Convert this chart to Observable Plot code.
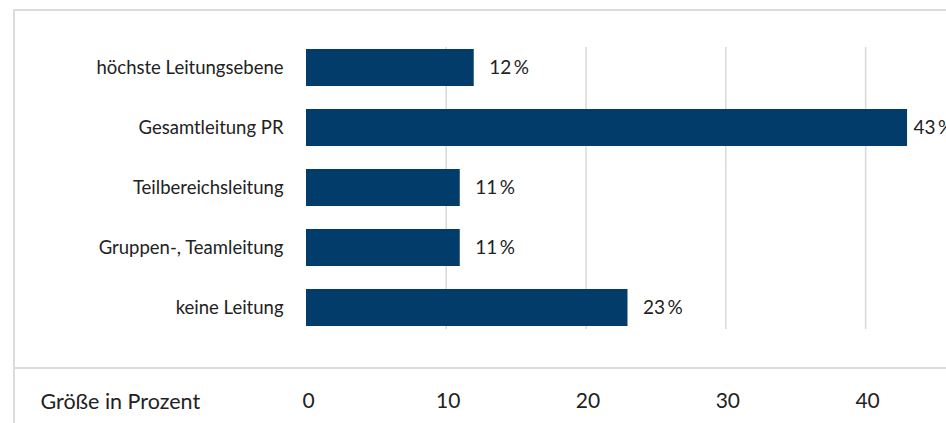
<!DOCTYPE html>
<html>
<head>
<meta charset="utf-8">
<script src="https://cdn.jsdelivr.net/npm/d3@7"></script>
<script src="https://cdn.jsdelivr.net/npm/@observablehq/plot@0.6"></script>
<style>
  html, body { margin: 0; padding: 0; background: #fff; }
  #wrap { position: relative; width: 946px; height: 423px; overflow: hidden; }
  .ln { position: absolute; background: #dcdcdc; }
  #chart svg { position: absolute; left: 0; top: 0; }
</style>
</head>
<body>
<div id="wrap">
  <div id="chart"></div>
  <div class="ln" style="left:13px; top:9px; width:933px; height:2px;"></div>
  <div class="ln" style="left:13px; top:9px; width:2px; height:414px;"></div>
  <div class="ln" style="left:13px; top:367px; width:933px; height:2px;"></div>
</div>
<script>
const categories = ["höchste Leitungsebene", "Gesamtleitung PR", "Teilbereichsleitung", "Gruppen-, Teamleitung", "keine Leitung"];
const values = [12, 43, 11, 11, 23];
const xTicks = [0, 10, 20, 30, 40];
const axisTitle = "Größe in Prozent";

const data = categories.map((c, i) => ({category: c, value: values[i]}));
const label = d => d.value + "\u2009%";

const plot = Plot.plot({
  width: 946,
  height: 423,
  marginLeft: 306,
  marginRight: 11,
  marginTop: 47,
  marginBottom: 94,
  style: {fontFamily: "Lato, 'Open Sans', sans-serif", fontSize: "18px", color: "#222", background: "transparent"},
  x: {domain: [0, 45]},
  y: {domain: categories, paddingInner: 0.377, paddingOuter: 0},
  marks: [
    Plot.gridX(xTicks.filter(t => t > 0), {stroke: "#d9d9d9", strokeOpacity: 1, strokeWidth: 1.5}),
    Plot.barX(data, {x: "value", y: "category", fill: "#023c6b"}),
    Plot.text(data.filter(d => d.value < 40), {x: "value", y: "category", text: label, textAnchor: "start", dx: 15, fill: "#222", fontSize: 19}),
    Plot.text(data.filter(d => d.value >= 40), {x: "value", y: "category", text: label, textAnchor: "start", dx: 6, fill: "#222", fontSize: 19}),
    Plot.axisY({tickSize: 0, tickPadding: 23, label: null, fontSize: 18.5, fill: "#222"}),
    Plot.axisX({ticks: xTicks, tickSize: 0, tickPadding: 64, label: null, fontSize: 21, dx: 2, fill: "#222"}),
    Plot.text([axisTitle], {frameAnchor: "bottom-left", dx: -266, dy: 73, textAnchor: "start", lineAnchor: "middle", fontSize: 21.5, fill: "#222"})
  ]
});
document.getElementById("chart").appendChild(plot);
</script>
</body>
</html>
